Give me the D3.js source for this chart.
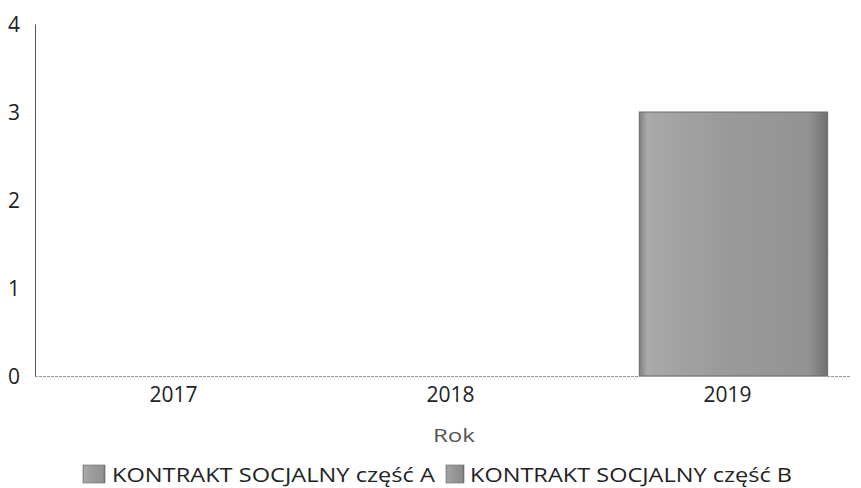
<!DOCTYPE html>
<html><head><meta charset="utf-8">
<script src="https://cdn.jsdelivr.net/npm/d3@7"></script>
<style>
html,body{margin:0;padding:0;background:#fff;}
svg{display:block;font-family:"Open Sans",sans-serif;}
</style></head>
<body><svg id="c" width="861" height="488"></svg>
<script>
const years = ["2017","2018","2019"];
const seriesNames = ["KONTRAKT SOCJALNY część A","KONTRAKT SOCJALNY część B"];
const valuesA = [0,0,3];
const valuesB = [0,0,0];
const yTicks = [0,1,2,3,4];
const xTitle = "Rok";

const svg = d3.select("#c");
const defs = svg.append("defs");
function grad(id, stops){
  const g = defs.append("linearGradient").attr("id",id).attr("x1","0").attr("x2","1").attr("y1","0").attr("y2","0");
  stops.forEach(s=>g.append("stop").attr("offset",s[0]).attr("stop-color",s[1]));
}
grad("gA",[[0,"#7e7e7e"],[0.04,"#a9aaa9"],[0.15,"#a3a4a3"],[0.5,"#989998"],[0.9,"#929392"],[1,"#707070"]]);
grad("gB",[[0,"#7a7a7a"],[0.04,"#a4a4a4"],[0.5,"#959595"],[0.9,"#8c8c8c"],[1,"#6a6a6a"]]);
const fills = ["url(#gA)","url(#gB)"];

const x = d3.scaleBand().domain(years).range([35, 866]).paddingInner(0).paddingOuter(0);
const y = d3.scaleLinear().domain([0,4]).range([376, 24]);

const data = years.map((yr,i)=>({year:yr, A:valuesA[i], B:valuesB[i]}));
const stack = d3.stack().keys(["A","B"])(data);

// bars
const barW = x.bandwidth()*0.68;
stack.forEach((layer,li)=>{
  svg.append("g").selectAll("rect").data(layer.filter(d=>d[1]-d[0]>0)).join("rect")
    .attr("x", d=>x(d.data.year)+x.bandwidth()/2-barW/2+6)
    .attr("width", barW)
    .attr("y", d=>y(d[1]))
    .attr("height", d=>y(d[0])-y(d[1]))
    .attr("fill", fills[li])
    .attr("stroke","#6a6a6a").attr("stroke-width",1);
});

// y axis
const yAxis = d3.axisLeft(y).tickValues(yTicks).tickFormat(d3.format("d")).tickSize(0).tickPadding(15);
const gy = svg.append("g").attr("transform","translate(35,0)").call(yAxis);
gy.select(".domain").attr("stroke","#555").attr("stroke-width",1);
gy.selectAll("text").attr("font-size",21).attr("fill","#222").attr("font-family","Open Sans").attr("dy","0.38em");

// x axis
const xAxis = d3.axisBottom(x).tickSize(0).tickPadding(11);
const gx = svg.append("g").attr("transform","translate(0,376)").call(xAxis);
gx.select(".domain").attr("d","M35,0.5H850").attr("stroke","#999").attr("stroke-dasharray","3,1");
gx.selectAll("text").attr("font-size",21).attr("fill","#222").attr("font-family","Open Sans");

svg.append("text").attr("x",433).attr("y",442)
  .attr("font-family","Open Sans").attr("font-size",19)
  .attr("textLength",42).attr("lengthAdjust","spacingAndGlyphs")
  .attr("fill","#555").text(xTitle);

// legend
const leg = svg.append("g");
const swX = [83, 446], swW = [22, 18], txX = [112, 470], txW = [323, 322];
seriesNames.forEach((n,i)=>{
  leg.append("rect").attr("x",swX[i]).attr("y",465).attr("width",swW[i]).attr("height",18)
    .attr("fill",fills[i]).attr("stroke","#666").attr("stroke-width",0.6);
  leg.append("text").attr("x",txX[i]).attr("y",482)
    .attr("font-family","Open Sans").attr("font-size",20.5)
    .attr("textLength",txW[i]).attr("lengthAdjust","spacingAndGlyphs")
    .attr("fill","#222").text(n);
});
</script></body></html>
